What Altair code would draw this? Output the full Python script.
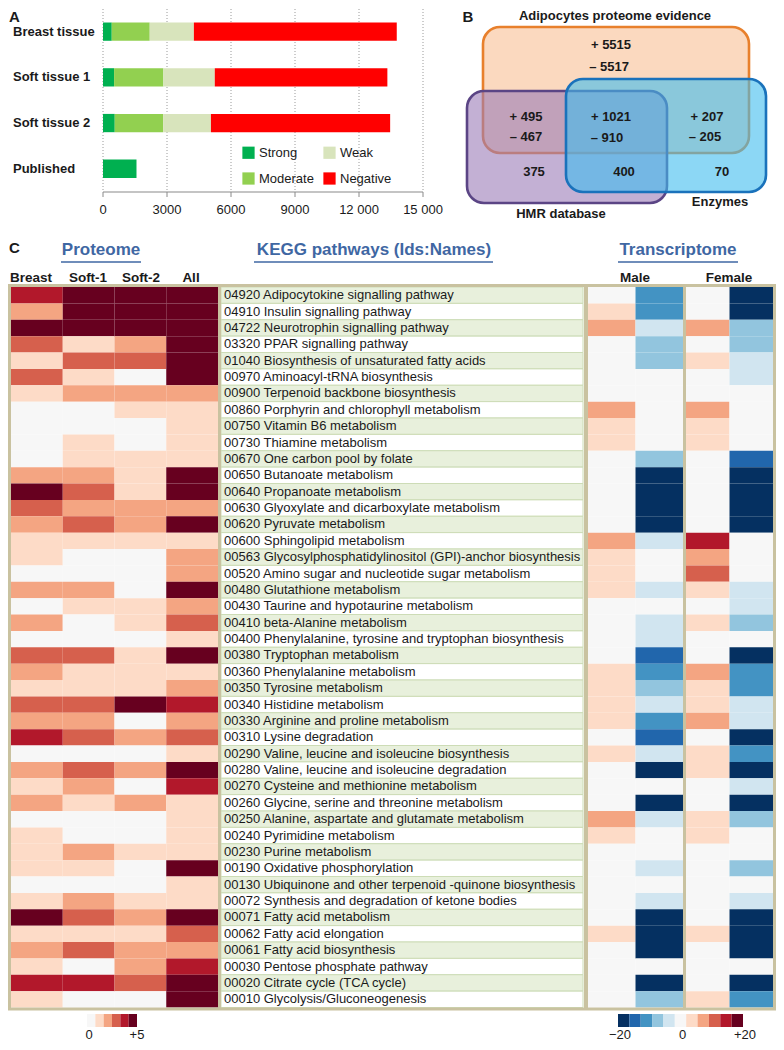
import altair as alt
import pandas as pd

# ---------------- Panel A data ----------------
a_categories = ["Breast tissue", "Soft tissue 1", "Soft tissue 2", "Published"]
a_levels = ["Strong", "Moderate", "Weak", "Negative"]
a_strong = [410, 520, 550, 1570]
a_moderate = [1780, 2310, 2270, 0]
a_weak = [2070, 2410, 2240, 0]
a_negative = [9510, 8090, 8400, 0]
a_ticks = [0, 3000, 6000, 9000, 12000, 15000]
a_tick_labels = ["0", "3000", "6000", "9000", "12 000", "15 000"]

# ---------------- Panel B data ----------------
venn_sets = ["Adipocytes proteome evidence", "HMR database", "Enzymes"]
venn_plus = [5515, 495, 1021, 207]
venn_minus = [5517, 467, 910, 205]
venn_only = [375, 400, 70]

# ---------------- Panel C data ----------------
kegg_ids = ["04920", "04910", "04722", "03320", "01040", "00970", "00900", "00860", "00750", "00730",
            "00670", "00650", "00640", "00630", "00620", "00600", "00563", "00520", "00480", "00430",
            "00410", "00400", "00380", "00360", "00350", "00340", "00330", "00310", "00290", "00280",
            "00270", "00260", "00250", "00240", "00230", "00190", "00130", "00072", "00071", "00062",
            "00061", "00030", "00020", "00010"]
kegg_names = ["Adipocytokine signalling pathway", "Insulin signalling pathway", "Neurotrophin signalling pathway",
              "PPAR signalling pathway", "Biosynthesis of unsaturated fatty acids", "Aminoacyl-tRNA biosynthesis",
              "Terpenoid backbone biosynthesis", "Porphyrin and chlorophyll metabolism", "Vitamin B6 metabolism",
              "Thiamine metabolism", "One carbon pool by folate", "Butanoate metabolism", "Propanoate metabolism",
              "Glyoxylate and dicarboxylate metabolism", "Pyruvate metabolism", "Sphingolipid metabolism",
              "Glycosylphosphatidylinositol (GPI)-anchor biosynthesis", "Amino sugar and nucleotide sugar metabolism",
              "Glutathione metabolism", "Taurine and hypotaurine metabolism", "beta-Alanine metabolism",
              "Phenylalanine, tyrosine and tryptophan biosynthesis", "Tryptophan metabolism", "Phenylalanine metabolism",
              "Tyrosine metabolism", "Histidine metabolism", "Arginine and proline metabolism", "Lysine degradation",
              "Valine, leucine and isoleucine biosynthesis", "Valine, leucine and isoleucine degradation",
              "Cysteine and methionine metabolism", "Glycine, serine and threonine metabolism",
              "Alanine, aspartate and glutamate metabolism", "Pyrimidine metabolism", "Purine metabolism",
              "Oxidative phosphorylation", "Ubiquinone and other terpenoid -quinone biosynthesis",
              "Synthesis and degradation of ketone bodies", "Fatty acid metabolism", "Fatty acid elongation",
              "Fatty acid biosynthesis", "Pentose phosphate pathway", "Citrate cycle (TCA cycle)",
              "Glycolysis/Gluconeogenesis"]

prot_columns = ["Breast", "Soft-1", "Soft-2", "All"]
prot_breast = [4, 2, 5, 3, 1, 3, 1, 0, 0, 0, 0, 2, 5, 3, 2, 1, 1, 0, 2, 0, 2, 0,
               3, 2, 1, 3, 2, 4, 0, 2, 1, 2, 0, 1, 1, 1, 0, 1, 5, 1, 2, 1, 4, 1]
prot_soft1 = [5, 5, 5, 1, 3, 1, 2, 0, 0, 1, 1, 2, 3, 2, 3, 1, 0, 0, 2, 1, 0, 0,
              3, 1, 1, 3, 2, 3, 0, 3, 2, 1, 0, 0, 2, 1, 0, 2, 3, 1, 3, 0, 4, 0]
prot_soft2 = [5, 5, 5, 2, 3, 0, 2, 1, 0, 0, 1, 1, 1, 2, 2, 1, 0, 0, 0, 1, 1, 0,
              1, 1, 1, 5, 0, 2, 0, 2, 0, 2, 0, 0, 1, 0, 0, 1, 2, 1, 2, 2, 3, 0]
prot_all = [5, 5, 5, 5, 5, 5, 2, 1, 1, 1, 1, 5, 5, 2, 5, 1, 2, 2, 5, 2, 3, 1,
            5, 1, 2, 4, 2, 3, 1, 5, 4, 1, 1, 1, 1, 5, 1, 1, 5, 3, 2, 4, 5, 5]

tr_groups = ["Male", "Female"]
tr_male_up = [0, 4, 8, 0, 0, 0, 0, 8, 4, 4, 0, 0, 0, 0, 0, 8, 4, 4, 4, 0, 0, 0,
              0, 4, 4, 4, 4, 0, 4, 0, 0, 0, 8, 4, 0, 0, 0, 0, 0, 4, 0, 0, 0, 0]
tr_male_down = [-12, -12, -4, -8, -8, 0, 0, 0, 0, 0, -8, -20, -20, -20, -20, -4, 0, 0, -4, 0, -4, -4,
                -16, -12, -8, -4, -12, -16, -4, -20, 0, -20, -4, 0, 0, -4, 0, -4, -20, -20, -20, 0, -20, -8]
tr_female_up = [0, 0, 8, 0, 4, 0, 0, 8, 4, 4, 0, 0, 0, 0, 0, 16, 8, 12, 4, 0, 4, 0,
                0, 8, 4, 4, 8, 0, 4, 4, 0, 0, 4, 4, 0, 0, 0, 0, 0, 4, 0, 0, 0, 4]
tr_female_down = [-20, -20, -8, -8, -4, -4, 0, 0, 0, 0, -16, -20, -20, -20, -20, 0, 0, 0, -4, -4, -8, 0,
                  -20, -12, -12, -4, -4, -20, -12, -20, -4, -20, -8, 0, 0, -8, 0, -4, -20, -20, -20, 0, -20, -12]

prot_levels = [0, 1, 2, 3, 4, 5]
tr_levels = [-20, -16, -12, -8, -4, 0, 4, 8, 12, 16, 20]
prot_bar_ticks = [0, 5]
prot_bar_labels = ["0", "+5"]
tr_bar_ticks = [-20, 0, 20]
tr_bar_labels = ["\u221220", "0", "+20"]

# ---------------- styles / layout ----------------
SANS = "Liberation Sans, Arial, Helvetica, sans-serif"
A_RANGE = ["#00b050", "#92d050", "#d8e4bc", "#ff0000"]
RDBU = ["#053061", "#2166ac", "#4393c3", "#92c5de", "#d1e5f0", "#f7f7f7",
        "#fddbc7", "#f4a582", "#d6604d", "#b2182b", "#67001f"]
PROT_COLORS = RDBU[5:]
KHAKI = "#c9c2a0"
HEAD_BLUE = "#3f67a3"


def X(v):
    return v - 8


def Y(v):
    return v - 8


def one():
    return alt.Chart(pd.DataFrame({"k": [0]}))


def txt(s, x, y, size=13, weight="normal", align="center", color="#1a1a1a", font=SANS, baseline="middle"):
    return one().mark_text(text=s, fontSize=size, fontWeight=weight, align=align, baseline=baseline,
                           color=color, font=font).encode(x=alt.value(X(x)), y=alt.value(Y(y)))


def rule(x1, x2, y1, y2, color, width):
    return one().mark_rule(color=color, strokeWidth=width).encode(
        x=alt.value(X(x1)), x2=alt.value(X(x2)), y=alt.value(Y(y1)), y2=alt.value(Y(y2)))


layers = []

# ================= Panel A =================
xA = alt.Scale(domain=[0, 15000], range=[X(103), X(423)], nice=False, zero=False)
yA = alt.Scale(domain=a_categories, range=[Y(8.8), Y(191.6)], paddingInner=0.6, paddingOuter=0.3)

a_rows = []
for j, (lev, vals) in enumerate(zip(a_levels, [a_strong, a_moderate, a_weak, a_negative])):
    for c, v in zip(a_categories, vals):
        if v > 0:
            a_rows.append({"cat": c, "level": lev, "value": v, "ord": j})
a_df = pd.DataFrame(a_rows)
ticks_df = pd.DataFrame({"t": a_ticks, "lab": a_tick_labels})

layers.append(txt("A", 9, 9.5, size=15, weight="bold", align="left", baseline="top"))
layers.append(alt.Chart(ticks_df).mark_rule(color="#9a9a9a", strokeWidth=1, strokeDash=[1, 2]).encode(
    x=alt.X("t:Q", scale=xA, axis=None), y=alt.value(Y(9)), y2=alt.value(Y(192))))
layers.append(alt.Chart(a_df).mark_bar().encode(
    x=alt.X("value:Q", stack="zero", scale=xA, axis=None),
    y=alt.Y("cat:N", scale=yA, axis=None),
    color=alt.Color("level:N", scale=alt.Scale(domain=a_levels, range=A_RANGE),
                    legend=alt.Legend(orient="none", legendX=X(242), legendY=Y(146), columns=2, title=None,
                                      symbolType="square", symbolSize=150, symbolStrokeWidth=0,
                                      symbolOpacity=1, labelFontSize=13, labelFont=SANS, labelColor="#1a1a1a",
                                      labelOffset=4, columnPadding=9, rowPadding=12, padding=0)),
    order=alt.Order("ord:Q", sort="ascending")))
layers.append(alt.Chart(pd.DataFrame({"cat": a_categories})).mark_text(
    align="left", baseline="middle", fontSize=13, fontWeight="bold", font=SANS, color="#1a1a1a").encode(
    y=alt.Y("cat:N", scale=yA, axis=None), x=alt.value(X(13)), text="cat:N"))
layers.append(rule(103, 423, 192, 192, "#8a8a8a", 1.2))
layers.append(alt.Chart(ticks_df).mark_rule(color="#8a8a8a", strokeWidth=1).encode(
    x=alt.X("t:Q", scale=xA, axis=None), y=alt.value(Y(192)), y2=alt.value(Y(197))))
layers.append(alt.Chart(ticks_df).mark_text(fontSize=13, font=SANS, color="#1a1a1a", baseline="middle").encode(
    x=alt.X("t:Q", scale=xA, axis=None), y=alt.value(Y(210)), text="lab:N"))

# ================= Panel B =================
layers.append(txt("B", 468, 9.5, size=15, weight="bold", baseline="top"))
layers.append(txt(venn_sets[0], 615, 10, size=13, weight="bold", baseline="top"))
venn_style = [
    (venn_sets[0], (483, 749, 27, 153), "#fbd9bf", 1.0, "#e8802c"),
    (venn_sets[1], (467, 667, 91, 203), "#9b7bb7", 0.6, "#5b4585"),
    (venn_sets[2], (566, 766, 79, 192), "#3fbcee", 0.6, "#1a72bb"),
]
for name, (x0, x1, y0, y1), fill, op, stroke in venn_style:
    layers.append(one().mark_rect(cornerRadius=17, fill=fill, fillOpacity=op, stroke=stroke,
                                  strokeWidth=2.6).encode(
        x=alt.value(X(x0)), x2=alt.value(X(x1)), y=alt.value(Y(y0)), y2=alt.value(Y(y1))))

plus_pos = [(611, 45), (526, 117), (611, 117), (707, 117)]
minus_pos = [(609, 67), (526, 137), (607, 138), (705, 137)]
only_pos = [(534, 172), (624, 172), (722, 172)]
vt = []
for v, (x, y) in zip(venn_plus, plus_pos):
    vt.append({"s": f"+ {v}", "px": X(x), "py": Y(y)})
for i, (v, (x, y)) in enumerate(zip(venn_minus, minus_pos)):
    vt.append({"s": (f"\u2013   {v}" if i == 0 else f"\u2013 {v}"), "px": X(x), "py": Y(y)})
for v, (x, y) in zip(venn_only, only_pos):
    vt.append({"s": f"{v}", "px": X(x), "py": Y(y)})
vt.append({"s": venn_sets[1], "px": X(561), "py": Y(214)})
vt.append({"s": venn_sets[2], "px": X(720), "py": Y(202)})
layers.append(alt.Chart(pd.DataFrame(vt)).mark_text(
    fontSize=13, fontWeight="bold", font=SANS, color="#1a1a1a", baseline="middle").encode(
    x=alt.X("px:Q", scale=None), y=alt.Y("py:Q", scale=None), text="s:N"))

# ================= Panel C =================
NROW = len(kegg_ids)
yC = alt.Scale(domain=[0, NROW], range=[Y(287), Y(1007.5)], nice=False, zero=False)
xP = alt.Scale(domain=[0, 4], range=[X(11), X(218)], nice=False, zero=False)

layers.append(txt("C", 9, 248, size=15, weight="bold", align="left"))
heads = [("Proteome", 101, 61, 141), ("KEGG pathways (Ids:Names)", 374, 254, 493),
         ("Transcriptome", 678, 618, 738)]
for s, cx, u0, u1 in heads:
    layers.append(txt(s, cx, 250, size=17, weight="bold", color=HEAD_BLUE))
    layers.append(rule(u0, u1, 262, 262, HEAD_BLUE, 1.5))
for s, cx in zip(prot_columns, [31, 88, 141, 191]):
    layers.append(txt(s, cx, 278, size=13.5, weight="bold"))
for s, cx in zip(tr_groups, [635, 729]):
    layers.append(txt(s, cx, 278, size=13.5, weight="bold"))

# proteome heatmap
p_rows = []
for j, vals in enumerate([prot_breast, prot_soft1, prot_soft2, prot_all]):
    for i, v in enumerate(vals):
        p_rows.append({"r0": i, "r1": i + 1, "c0": j, "c1": j + 1, "v": v})
layers.append(alt.Chart(pd.DataFrame(p_rows)).mark_rect().encode(
    x=alt.X("c0:Q", scale=xP, axis=None), x2="c1:Q",
    y=alt.Y("r0:Q", scale=yC, axis=None), y2="r1:Q",
    color=alt.Color("v:O", scale=alt.Scale(domain=prot_levels, range=PROT_COLORS), legend=None)))

# transcriptome heatmaps (male, female)
for (up, down), (x0, x1) in zip([(tr_male_up, tr_male_down), (tr_female_up, tr_female_down)],
                                [(588, 683), (686, 773)]):
    t_rows = []
    for j, vals in enumerate([up, down]):
        for i, v in enumerate(vals):
            t_rows.append({"r0": i, "r1": i + 1, "c0": j, "c1": j + 1, "v": v})
    layers.append(alt.Chart(pd.DataFrame(t_rows)).mark_rect().encode(
        x=alt.X("c0:Q", scale=alt.Scale(domain=[0, 2], range=[X(x0), X(x1)], nice=False, zero=False),
                axis=None), x2="c1:Q",
        y=alt.Y("r0:Q", scale=yC, axis=None), y2="r1:Q",
        color=alt.Color("v:O", scale=alt.Scale(domain=tr_levels, range=RDBU), legend=None)))

# KEGG pathway list
k_df = pd.DataFrame({"r0": list(range(NROW)), "r1": [i + 1 for i in range(NROW)],
                     "rm": [i + 0.5 for i in range(NROW)],
                     "lab": [f"{a} {b}" for a, b in zip(kegg_ids, kegg_names)],
                     "alt": [i % 2 for i in range(NROW)]})
layers.append(alt.Chart(k_df).mark_rect(stroke="#cddcb6", strokeWidth=1).encode(
    x=alt.value(X(221)), x2=alt.value(X(583)),
    y=alt.Y("r0:Q", scale=yC, axis=None), y2="r1:Q",
    color=alt.Color("alt:O", scale=alt.Scale(domain=[0, 1], range=["#e8f0dc", "#ffffff"]), legend=None)))
layers.append(alt.Chart(k_df).mark_text(align="left", baseline="middle", fontSize=13, font=SANS,
                                        color="#1a1a1a").encode(
    x=alt.value(X(224)), y=alt.Y("rm:Q", scale=yC, axis=None), text="lab:N"))

# frame
layers.append(one().mark_rect(fillOpacity=0, stroke=KHAKI, strokeWidth=3).encode(
    x=alt.value(X(9.5)), x2=alt.value(X(774.5)), y=alt.value(Y(285.5)), y2=alt.value(Y(1009))))
layers.append(rule(219.5, 219.5, 285, 1009, KHAKI, 3))
layers.append(rule(586, 586, 285, 1009, KHAKI, 4))
layers.append(rule(684.5, 684.5, 285, 1009, KHAKI, 3))

# colour bars
pb = pd.DataFrame({"s0": list(range(len(prot_levels))), "s1": [i + 1 for i in range(len(prot_levels))],
                   "v": prot_levels})
layers.append(alt.Chart(pb).mark_rect().encode(
    x=alt.X("s0:Q", scale=alt.Scale(domain=[0, 6], range=[X(87), X(137)], nice=False, zero=False), axis=None),
    x2="s1:Q", y=alt.value(Y(1014)), y2=alt.value(Y(1027)),
    color=alt.Color("v:O", scale=alt.Scale(domain=prot_levels, range=PROT_COLORS), legend=None)))
layers.append(alt.Chart(pd.DataFrame({"t": prot_bar_ticks, "lab": prot_bar_labels})).mark_text(
    fontSize=13, font=SANS, color="#1a1a1a", baseline="middle").encode(
    x=alt.X("t:Q", scale=alt.Scale(domain=[0, 5], range=[X(89), X(137)], nice=False, zero=False), axis=None),
    y=alt.value(Y(1035)), text="lab:N"))

tb = pd.DataFrame({"s0": list(range(len(tr_levels))), "s1": [i + 1 for i in range(len(tr_levels))],
                   "v": tr_levels})
layers.append(alt.Chart(tb).mark_rect().encode(
    x=alt.X("s0:Q", scale=alt.Scale(domain=[0, 11], range=[X(618), X(743)], nice=False, zero=False), axis=None),
    x2="s1:Q", y=alt.value(Y(1014)), y2=alt.value(Y(1027)),
    color=alt.Color("v:O", scale=alt.Scale(domain=tr_levels, range=RDBU), legend=None)))
layers.append(alt.Chart(pd.DataFrame({"t": tr_bar_ticks, "lab": tr_bar_labels})).mark_text(
    fontSize=13, font=SANS, color="#1a1a1a", baseline="middle").encode(
    x=alt.X("t:Q", scale=alt.Scale(domain=[-20, 20], range=[X(620), X(745)], nice=False, zero=False), axis=None),
    y=alt.value(Y(1035)), text="lab:N"))

chart = alt.layer(*layers).resolve_scale(
    x="independent", y="independent", color="independent"
).properties(
    width=768, height=1034, padding=0, autosize=alt.AutoSizeParams(type="none")
).configure_view(strokeWidth=0)

chart.save("out.html", embed_options={"renderer": "svg", "actions": False})
